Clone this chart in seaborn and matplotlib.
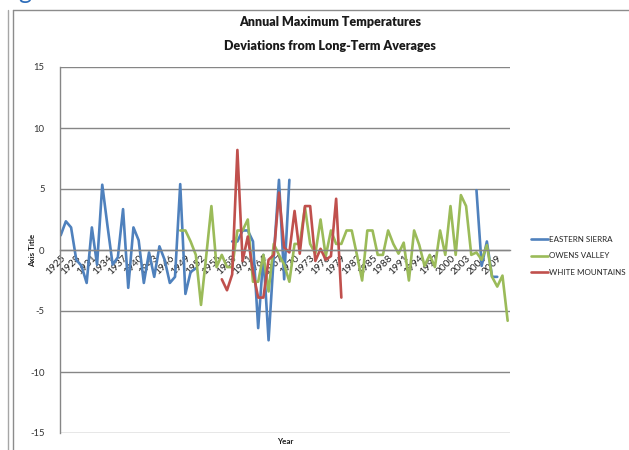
import numpy as np
import pandas as pd
import matplotlib
matplotlib.use("Agg")
import matplotlib.pyplot as plt
from matplotlib.lines import Line2D
import seaborn as sns

nan = np.nan

# ---- data ----
series_names = ["EASTERN SIERRA", "OWENS VALLEY", "WHITE MOUNTAINS"]
series_colors = ["#4F81BD", "#9BBB59", "#C0504D"]

es_years = list(range(1925, 2010))
es_vals = ([1.2, 2.35, 1.85, -0.8, -1.3, -2.7, 1.85, -1.2, 5.35, 2.0,
            -1.2, -0.6, 3.35, -3.1, 1.85, 0.8, -2.7, -0.2, -2.2, 0.3,
            -0.8, -2.7, -2.2, 5.4, -3.6, -1.8, -1.5]
           + [nan] * 6
           + [0.7, 0.7, 1.6, 1.6, 0.7, -6.4, -0.4, -7.4, -0.5, 5.75, -2.4, 5.75]
           + [nan] * 35
           + [4.9, -1.3, 0.7, -2.2, -2.2])

ov_years = list(range(1948, 2012))
ov_vals = [1.6, 1.6, 0.7, -0.4, -4.5, -0.5, 3.6, -1.4, -0.4, -1.4,
           -1.4, 1.6, 1.6, 2.5, -2.6, -2.6, -0.4, -3.4, 0.5, -0.4,
           -1.2, -2.6, 0.5, 0.5, 3.5, 0.5, -0.3, 2.5, -0.5, 1.6,
           0.5, 0.5, 1.6, 1.6, -0.4, -2.5, 1.6, 1.6, -0.4, -0.4,
           1.6, 0.5, -0.3, 0.6, -2.5, 1.6, 0.4, -1.3, -0.4, -1.4,
           1.6, -0.4, 3.6, -0.4, 4.5, 3.6, -0.4, -0.2, -0.8, 0.4,
           -2.2, -3.0, -2.1, -5.8]

wm_years = list(range(1956, 1980))
wm_vals = [-2.4, -3.3, -2.0, 8.2, -0.9, 1.1, -1.8, -3.9, -3.9, -0.8,
           -0.4, 4.7, 0.2, -0.2, 3.2, -0.3, 3.6, 3.6, -0.9, 0.1,
           -0.8, -0.5, 4.2, -3.9]

tick_years = list(range(1925, 2010, 3))
tick_labels = [str(y) for y in tick_years]
y_ticks = [-15, -10, -5, 0, 5, 10, 15]

title_lines = ["Annual Maximum Temperatures", "Deviations from Long-Term Averages"]

# ---- build long table with segment ids (gaps break lines) ----
rows = []
seg = 0
for name, yrs, vals in [(series_names[0], es_years, es_vals),
                        (series_names[1], ov_years, ov_vals),
                        (series_names[2], wm_years, wm_vals)]:
    prev_nan = True
    for yr, v in zip(yrs, vals):
        if np.isnan(v):
            prev_nan = True
            continue
        if prev_nan:
            seg += 1
            prev_nan = False
        rows.append({"year": yr, "value": v, "series": name, "segment": seg})
df = pd.DataFrame(rows)

# ---- style ----
sns.set_style("white")
plt.rcParams["font.family"] = ["Lato", "DejaVu Sans"]
plt.rcParams["axes.unicode_minus"] = False

W, H = 629, 450
fig = plt.figure(figsize=(W / 100, H / 100), dpi=100)
ax = fig.add_axes([60 / W, (H - 433) / H, 450 / W, 366 / H])

sns.lineplot(data=df, x="year", y="value", hue="series", units="segment",
             estimator=None, sort=True, hue_order=series_names,
             palette=series_colors, linewidth=1.9, ax=ax, legend=True)

for s in ["top", "right"]:
    ax.spines[s].set_visible(False)
ax.spines["bottom"].set_position(("data", 0))
ax.spines["left"].set_color("#868686")
ax.spines["left"].set_linewidth(1.0)
ax.spines["bottom"].set_color("#868686")
ax.spines["bottom"].set_linewidth(1.0)

ax.set_ylim(-15, 15)
ax.set_xlim(1924.87, 2011.45)
ax.set_yticks(y_ticks)
ax.set_yticklabels([str(t) for t in y_ticks], fontsize=6.8, color="#333333")
ax.set_xticks(tick_years)
ax.set_xticklabels(tick_labels, rotation=45, ha="right", va="top",
                   rotation_mode="anchor", fontsize=7.3, color="#222222")
ax.tick_params(axis="x", length=0, pad=2.5)
ax.tick_params(axis="y", length=3, width=0.8, color="#868686", pad=8,
               direction="out")
ax.yaxis.grid(True, color="#868686", linewidth=1.0)
ax.xaxis.grid(False)
ax.set_xlabel("")
ax.set_ylabel("")

handles, labels = ax.get_legend_handles_labels()
ax.get_legend().remove()
fig.legend(handles, labels, loc="center left",
           bbox_to_anchor=(527 / W, 1 - 256 / H), frameon=False,
           fontsize=5.8, handlelength=2.1, handletextpad=0.15,
           labelspacing=1.15, borderpad=0)

fig.text(330 / W, 1 - 22 / H, title_lines[0], ha="center", va="center",
         fontsize=9.0, fontweight="heavy", color="#1a1a1a")
fig.text(330 / W, 1 - 46 / H, title_lines[1], ha="center", va="center",
         fontsize=9.0, fontweight="heavy", color="#1a1a1a")
fig.text(33 / W, 1 - 250 / H, "Axis Title", rotation=90, ha="center",
         va="center", fontsize=5.8, fontweight="bold", color="#1a1a1a")
fig.text(285 / W, 1 - 442 / H, "Year", ha="center", va="center",
         fontsize=5.8, fontweight="bold", color="#1a1a1a")

# chart frame fragments
fig.add_artist(Line2D([8 / W, 8 / W], [0, 1 - 10 / H], color="#A6A6A6", lw=1.0))
fig.add_artist(Line2D([13 / W, 13 / W], [0, 1 - 10 / H], color="#8C8C8C", lw=1.0))
fig.add_artist(Line2D([13 / W, 1], [1 - 10 / H, 1 - 10 / H], color="#8C8C8C", lw=1.0))
fig.text(18 / W, 1 + 1 / H, "g", color="#2F6EBA", fontsize=18,
         va="baseline", ha="left")

fig.savefig("out.png", dpi=100)
